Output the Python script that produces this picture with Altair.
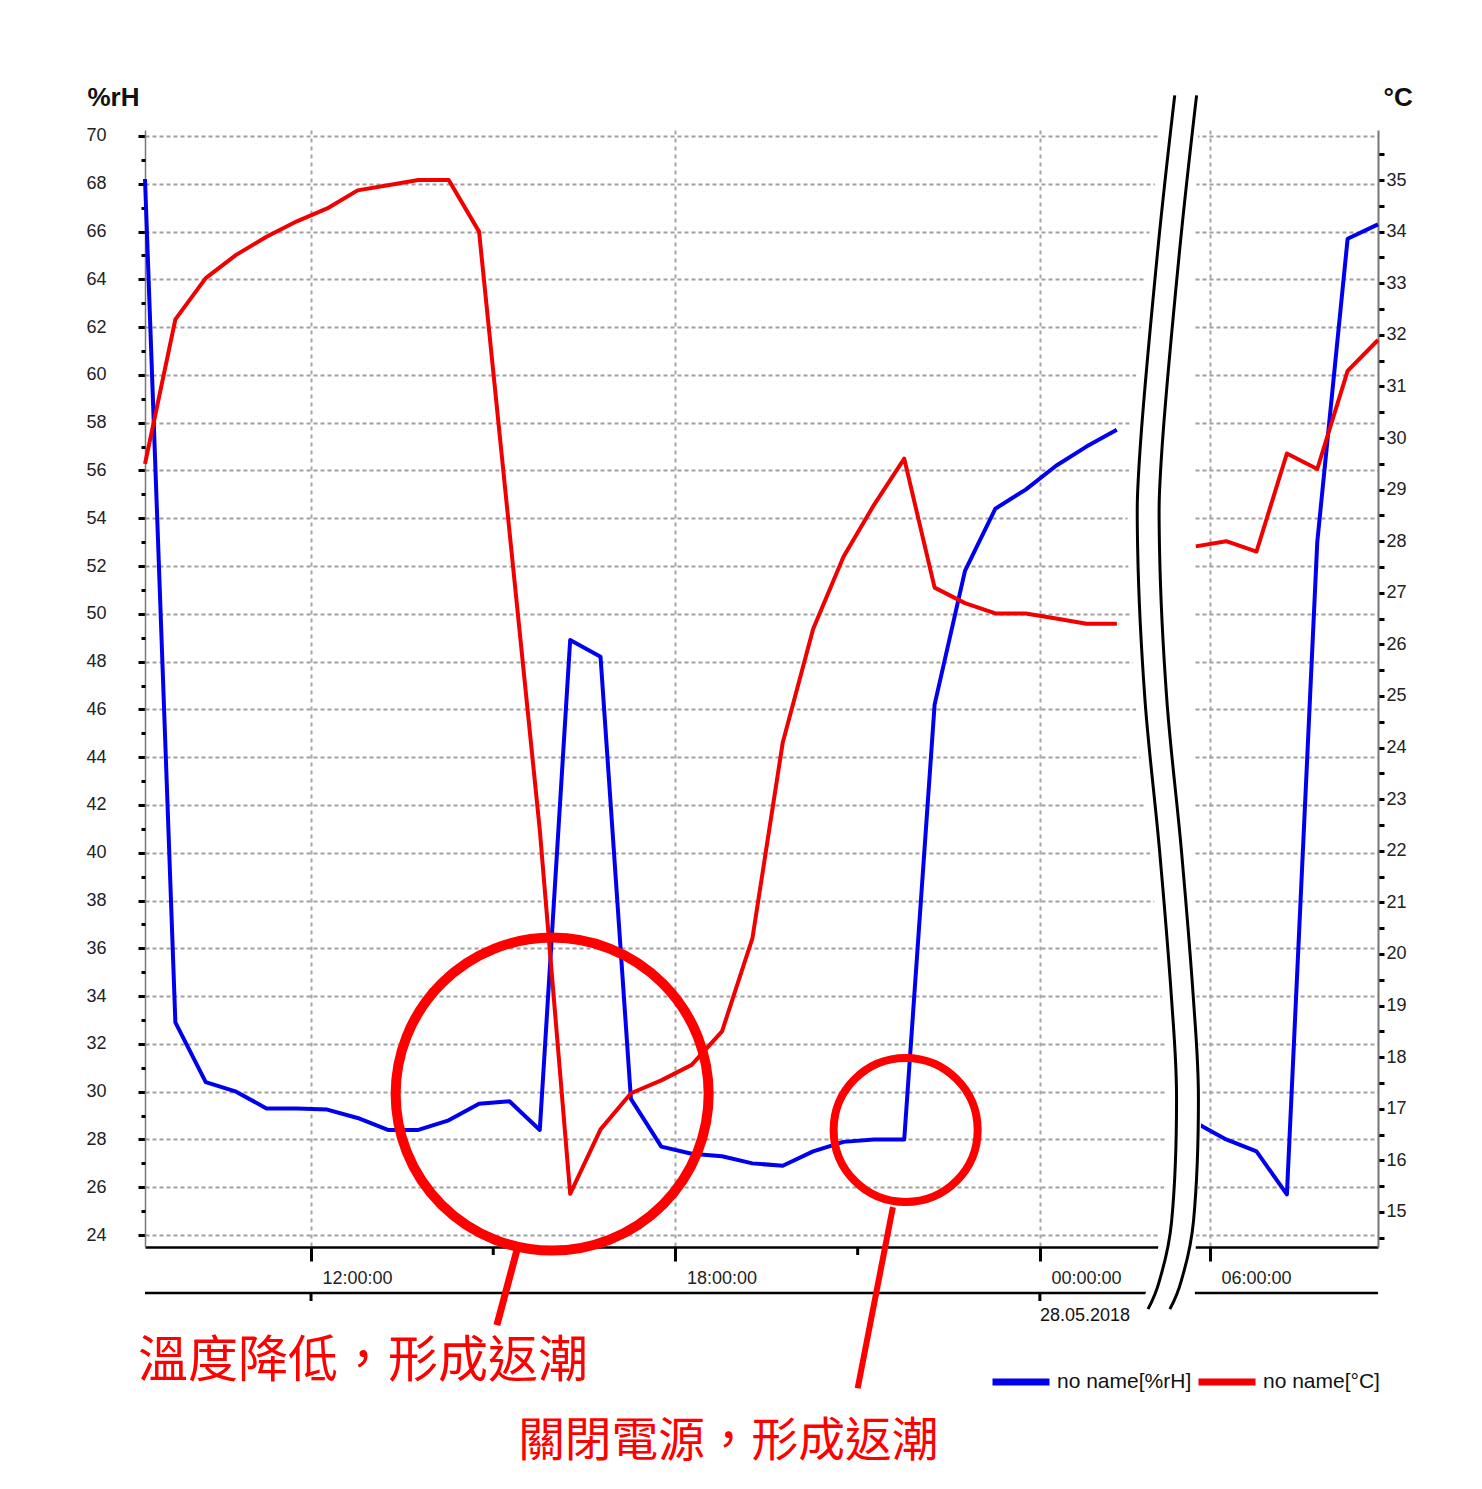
import altair as alt
import pandas as pd

# ---------------- data ----------------
TIMES_DAY1 = ["09:16", "09:46", "10:16", "10:46", "11:16", "11:46", "12:16", "12:46",
              "13:16", "13:46", "14:16", "14:46", "15:16", "15:46", "16:16", "16:46",
              "17:16", "17:46", "18:16", "18:46", "19:16", "19:46", "20:16", "20:46",
              "21:16", "21:46", "22:16", "22:46", "23:16", "23:46", "00:16", "00:46",
              "01:16"]
RH_DAY1 = [68.2, 32.9, 30.4, 30.0, 29.3, 29.3, 29.25, 28.9, 28.4, 28.4, 28.8, 29.5,
           29.6, 28.4, 48.9, 48.2, 29.7, 27.7, 27.4, 27.3, 27.0, 26.9, 27.5, 27.9,
           28.0, 28.0, 46.2, 51.8, 54.4, 55.2, 56.2, 57.0, 57.7]
TEMP_DAY1 = [29.5, 32.3, 33.1, 33.55, 33.9, 34.2, 34.45, 34.8, 34.9, 35.0, 35.0, 34.0,
             28.2, 22.4, 15.35, 16.6, 17.3, 17.55, 17.85, 18.5, 20.3, 24.1, 26.3, 27.7,
             28.7, 29.6, 27.1, 26.8, 26.6, 26.6, 26.5, 26.4, 26.4]
TIMES_DAY2 = ["05:46", "06:16", "06:46", "07:16", "07:46", "08:16", "08:46"]
RH_DAY2 = [28.7, 28.0, 27.5, 25.7, 53.0, 65.7, 66.3]
TEMP_DAY2 = [27.9, 28.0, 27.8, 29.7, 29.4, 31.3, 31.9]

RH_NAME = "no name[%rH]"
T_NAME = "no name[°C]"
SERIES = [RH_NAME, T_NAME]
COLORS = ["#0000ee", "#f00000"]

X_TICKS = [12, 18, 24, 26.8]          # display positions of the major time ticks
X_TICK_LABELS = ["12:00:00", "18:00:00", "00:00:00", "06:00:00"]
X_MINOR = [15, 21]
X_DATE_TICKS = [12, 24]
DATE_LABEL = ["28.05.2018"]
DATE_POS = [24]
BREAK_SHIFT = 3.2                      # hours hidden by the axis break

RH_DOMAIN = [23.5, 70.25]
T_DOMAIN = [14.32, 35.97]
RH_MAJOR = list(range(24, 71, 2))
RH_MINOR = list(range(25, 70, 2))
T_TICKS = [v / 2 for v in range(29, 72)]

# axis-break decoration (display hours, %rH)
BREAK_X = [26.22, 25.94, 25.65, 25.61, 25.73, 25.97, 26.17, 26.25, 26.17, 25.97, 25.78]
BREAK_Y = [71.7, 65.2, 56.9, 52.7, 46.4, 40.1, 33.8, 29.7, 24.6, 22.1, 20.9]
BREAK_SPACING = 0.36
GAP_END = 26.554

# annotations
CIRCLE_POS = [15.97, 21.79]
CIRCLE_RH = [29.9, 28.4]
CIRCLE_SIZE = [97969, 20736]
CIRCLE_SW = [10, 8]
PTR_X = [15.39, 21.58]
PTR_Y = [23.37, 25.17]
PTR_X2 = [15.06, 21.00]
PTR_Y2 = [20.23, 17.59]
PTR_W = [7, 6]
NOTE_TEXT = ["溫度降低，形成返潮", "關閉電源，形成返潮"]
NOTE_POS = [9.15, 15.41]
NOTE_RH = [18.68, 15.33]
NOTE_SIZE = [50, 46.7]

W, H = 1233, 1117
FONT = "Liberation Sans"
CJK = "Noto Sans CJK TC"


def to_hours(s, day):
    h, m = map(int, s.split(":"))
    return day * 24 + h + m / 60.0


pos1 = [to_hours(t, 1 if int(t[:2]) < 9 else 0) for t in TIMES_DAY1]
pos2 = [to_hours(t, 1) - BREAK_SHIFT for t in TIMES_DAY2]
X0, X1 = pos1[0], pos2[-1]

rows_rh, rows_t = [], []
for seg, (ps, rh, tt) in enumerate([(pos1, RH_DAY1, TEMP_DAY1), (pos2, RH_DAY2, TEMP_DAY2)]):
    for p, a, b in zip(ps, rh, tt):
        rows_rh.append({"pos": p, "value": a, "seg": seg, "series": RH_NAME})
        rows_t.append({"pos": p, "value": b, "seg": seg, "series": T_NAME})
df_rh = pd.DataFrame(rows_rh)
df_t = pd.DataFrame(rows_t)

XS = alt.Scale(domain=[X0, X1], nice=False, zero=False)
YL = alt.Scale(domain=RH_DOMAIN, nice=False, zero=False)
YR = alt.Scale(domain=T_DOMAIN, nice=False, zero=False)
CS = alt.Scale(domain=SERIES, range=COLORS)

label_expr = " : ".join(
    f"abs(datum.value - {v}) < 0.01 ? '{l}'" for v, l in zip(X_TICKS, X_TICK_LABELS)
) + " : ''"

AX = alt.Axis(
    orient="bottom", values=X_TICKS, labelExpr=label_expr, title=None,
    labelAlign="left", labelOffset=11, labelPadding=8, labelBaseline="top",
    tickSize=14, tickWidth=3, tickColor="black",
    domainColor="black", domainWidth=2.5,
    grid=True, gridDash=[4, 4], gridColor="#a6a6a6", gridWidth=2,
    labelOverlap=False)


def X(field):
    return alt.X(field, type="quantitative", scale=XS, axis=AX)


blue = alt.Chart(df_rh).mark_line(strokeWidth=4, strokeJoin="round", clip=False).encode(
    x=X("pos"),
    y=alt.Y("value:Q", scale=YL, axis=alt.Axis(
        orient="left", values=RH_MAJOR, title="%rH", titleAngle=0,
        titleX=-58, titleY=-33, titleAlign="left", titleBaseline="middle",
        titleFontSize=26, titleFontWeight="bold", titleFont=FONT, titleColor="#111",
        tickSize=7, tickWidth=3, tickColor="black", labelPadding=32,
        domainColor="#777777", domainWidth=1.5,
        grid=True, gridDash=[4, 3], gridColor="#a0a0a0", gridWidth=2)),
    color=alt.Color("series:N", scale=CS, legend=alt.Legend(
        title=None, orient="none", legendX=844, legendY=1220, direction="horizontal",
        symbolType="stroke", symbolSize=3249, symbolStrokeWidth=7,
        labelFont=FONT, labelFontSize=21, labelColor="#111",
        columnPadding=-8, labelOffset=4, padding=0)),
    detail="seg:N",
)

red = alt.Chart(df_t).mark_line(strokeWidth=4, strokeJoin="round", clip=False).encode(
    x=X("pos"),
    y=alt.Y("value:Q", scale=YR, axis=alt.Axis(
        orient="right", values=T_TICKS, title="°C", titleAngle=0,
        titleX=5, titleY=-33, titleAlign="left", titleBaseline="middle",
        titleFontSize=26, titleFontWeight="bold", titleFont=FONT, titleColor="#111",
        labelExpr="datum.value % 1 === 0 ? format(datum.value, 'd') : ''",
        tickSize=6, tickWidth=3, tickColor="black", labelPadding=2,
        domainColor="#777777", domainWidth=2, grid=False)),
    color=alt.Color("series:N", scale=CS, legend=None),
    detail="seg:N",
)

# second time-axis row
df_line2 = pd.DataFrame({"pos": [X0], "x2": [X1]})
line2 = alt.Chart(df_line2).mark_rule(color="black", strokeWidth=2.5, clip=False).encode(
    x=X("pos"), x2="x2:Q", y=alt.value(H + 46))
df_dt = pd.DataFrame({"pos": X_DATE_TICKS})
date_ticks = alt.Chart(df_dt).mark_rule(color="black", strokeWidth=3, clip=False).encode(
    x=X("pos"), y=alt.value(H + 46), y2=alt.value(H + 54))
df_minor = pd.DataFrame({"pos": X_MINOR})
minor_ticks = alt.Chart(df_minor).mark_rule(color="black", strokeWidth=3, clip=False).encode(
    x=X("pos"), y=alt.value(H), y2=alt.value(H + 8))
df_date = pd.DataFrame({"pos": DATE_POS, "text": DATE_LABEL})
date_text = alt.Chart(df_date).mark_text(
    align="left", baseline="middle", font=FONT, fontSize=18, color="#111", clip=False).encode(
    x=X("pos"), y=alt.value(H + 69), text="text:N")

# axis break
df_area = pd.DataFrame({
    "y": BREAK_Y,
    "pos": [x - 0.16 for x in BREAK_X],
    "xr": [max(x + BREAK_SPACING + 0.05, GAP_END) for x in BREAK_X],
})
break_area = alt.Chart(df_area).mark_area(
    orient="horizontal", color="white", opacity=1, interpolate="cardinal", clip=False).encode(
    y=alt.Y("y:Q", scale=YL, axis=None),
    x=X("pos"), x2="xr:Q")
curve_rows = []
for c, off in enumerate([0.0, BREAK_SPACING]):
    for i, (x, y) in enumerate(zip(BREAK_X, BREAK_Y)):
        curve_rows.append({"pos": x + off, "y": y, "o": i, "c": c})
df_curve = pd.DataFrame(curve_rows)
break_lines = alt.Chart(df_curve).mark_line(
    color="black", strokeWidth=3, interpolate="cardinal", clip=False).encode(
    x=X("pos"), y=alt.Y("y:Q", scale=YL, axis=None),
    order="o:Q", detail="c:N")

# annotations
df_circ = pd.DataFrame({"pos": CIRCLE_POS, "rh": CIRCLE_RH, "size": CIRCLE_SIZE, "sw": CIRCLE_SW})
circles = alt.Chart(df_circ).mark_point(
    shape="circle", filled=False, color="#ff0000", opacity=1, clip=False).encode(
    x=X("pos"),
    y=alt.Y("rh:Q", scale=YL, axis=alt.Axis(
        orient="left", values=RH_MINOR, labels=False, grid=False, domain=False,
        tickSize=4, tickWidth=3, tickColor="black", title=None)),
    size=alt.Size("size:Q", scale=None),
    strokeWidth=alt.StrokeWidth("sw:Q", scale=None))
df_ptr = pd.DataFrame({"pos": PTR_X, "y": PTR_Y, "x2": PTR_X2, "y2": PTR_Y2, "w": PTR_W})
pointers = alt.Chart(df_ptr).mark_rule(color="#ff0000", clip=False).encode(
    x=X("pos"), x2="x2:Q",
    y=alt.Y("y:Q", scale=YL, axis=None), y2="y2:Q",
    strokeWidth=alt.StrokeWidth("w:Q", scale=None))
df_note = pd.DataFrame({"pos": NOTE_POS, "rh": NOTE_RH, "text": NOTE_TEXT, "fs": NOTE_SIZE})
notes = alt.Chart(df_note).mark_text(
    align="left", baseline="middle", font=CJK, color="#ff0000", clip=False).encode(
    x=X("pos"), y=alt.Y("rh:Q", scale=YL, axis=None), text="text:N",
    size=alt.Size("fs:Q", scale=None))

chart = alt.layer(
    blue, red, line2, date_ticks, minor_ticks, date_text,
    break_area, break_lines, circles, pointers, notes,
).resolve_scale(y="independent").properties(
    width=W, height=H,
    autosize=alt.AutoSizeParams(type="none"),
    padding={"left": 137, "top": 122, "right": 90, "bottom": 240},
    background="white",
).configure_view(stroke=None).configure_axis(
    labelFont=FONT, labelFontSize=18, labelColor="#222222"
)

chart.save("out.html", embed_options={"renderer": "svg", "actions": False})
